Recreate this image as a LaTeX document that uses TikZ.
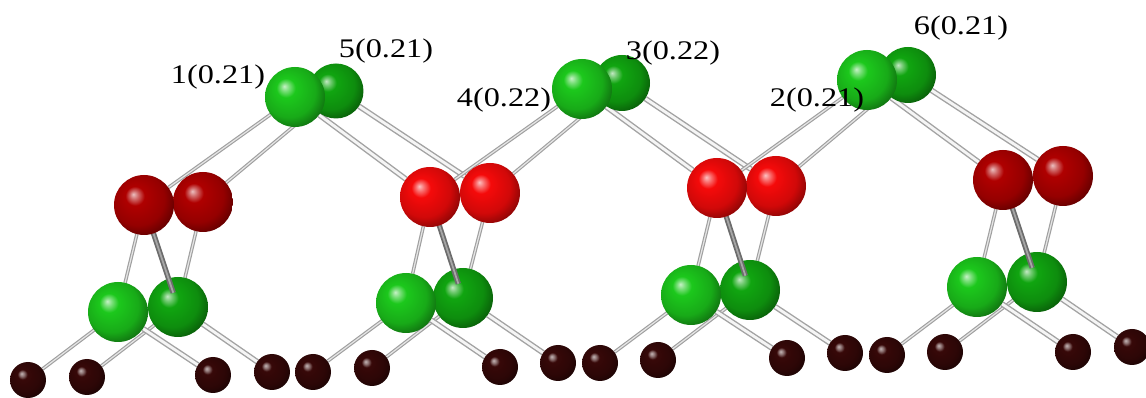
\documentclass[tikz,border=0pt]{standalone}
\usepackage{fontspec}
\setmainfont{Liberation Serif}

% atom colours
\definecolor{gfront}{RGB}{28,200,28}
\definecolor{gback}{RGB}{16,165,16}
\definecolor{rbright}{RGB}{245,10,10}
\definecolor{rdark}{RGB}{175,0,0}
\definecolor{katom}{RGB}{55,8,8}

% sphere shadings: soft highlight at upper left, dark rim
\pgfdeclareradialshading{gfshade}{\pgfpoint{-9bp}{9bp}}{color(0bp)=(gfront!25!white); color(3.5bp)=(gfront!60!white); color(8bp)=(gfront); color(22bp)=(gfront!85!black); color(34bp)=(gfront!45!black); color(50bp)=(black)}
\pgfdeclareradialshading{gbshade}{\pgfpoint{-9bp}{9bp}}{color(0bp)=(gback!25!white); color(3.5bp)=(gback!60!white); color(8bp)=(gback); color(22bp)=(gback!85!black); color(34bp)=(gback!45!black); color(50bp)=(black)}
\pgfdeclareradialshading{rbshade}{\pgfpoint{-9bp}{9bp}}{color(0bp)=(rbright!25!white); color(3.5bp)=(rbright!60!white); color(8bp)=(rbright); color(22bp)=(rbright!85!black); color(34bp)=(rbright!45!black); color(50bp)=(black)}
\pgfdeclareradialshading{rdshade}{\pgfpoint{-9bp}{9bp}}{color(0bp)=(rdark!25!white); color(3.5bp)=(rdark!60!white); color(8bp)=(rdark); color(22bp)=(rdark!85!black); color(34bp)=(rdark!45!black); color(50bp)=(black)}
\pgfdeclareradialshading{kshade}{\pgfpoint{-9bp}{9bp}}{color(0bp)=(katom!30!white); color(3bp)=(katom!55!white); color(7bp)=(katom); color(22bp)=(katom!80!black); color(34bp)=(katom!40!black); color(50bp)=(black)}

% drawing order: page, bonds, rear atoms, bonds lying over rear atoms, front atoms
\pgfdeclarelayer{page}
\pgfdeclarelayer{bonds}
\pgfdeclarelayer{back}
\pgfdeclarelayer{cross}
\pgfsetlayers{page,bonds,back,cross,main}

\begin{document}
\begin{tikzpicture}[x=0.02cm,y=0.02cm,
  atom/.style={circle, inner sep=0pt, outer sep=0pt, shade, minimum size=1.2cm},
  gf/.style={atom, shading=gfshade},
  gb/.style={atom, shading=gbshade},
  rb/.style={atom, shading=rbshade},
  rd/.style={atom, shading=rdshade},
  ck/.style={atom, shading=kshade, minimum size=0.72cm},
  bondL/.style={draw=gray!75, line width=2pt, postaction={draw=gray!20, line width=0.7pt}},
  bondR/.style={draw=gray!72, line width=3.2pt, postaction={draw=white!92!gray, line width=1.6pt}},
  bondX/.style={draw=gray!85!black, line width=3pt, shorten >=-0.3cm, postaction={draw=gray!70, line width=1pt}},
  lbl/.style={anchor=base, inner sep=0pt, font=\fontsize{15.3}{18}\selectfont}]
\begin{pgfonlayer}{page}
  \fill[white] (0,0) rectangle (1146,398);
\end{pgfonlayer}
\useasboundingbox (0,0) rectangle (1146,398);

% ---- rear atoms ----
\begin{pgfonlayer}{back}
  % upper pairs
  \node[gb, minimum size=1.1cm]  (t1b) at (336,307) {};
  \node[gb, minimum size=1.12cm] (t2b) at (622,315) {};
  \node[gb, minimum size=1.12cm] (t3b) at (908,323) {};
  % oxygen pairs
  \node[rd] (r1b) at (203,196) {};
  \node[rb] (r2b) at (490,205) {};
  \node[rb] (r3b) at (776,212) {};
  \node[rd] (r4b) at (1063,222) {};
  % lower pairs
  \node[gb] (g1b) at (178,91) {};
  \node[gb] (g2b) at (463,100) {};
  \node[gb] (g3b) at (750,108) {};
  \node[gb] (g4b) at (1037,116) {};
  % substrate row
  \node[ck] (k1)  at (28,18) {};
  \node[ck] (k2)  at (87,21) {};
  \node[ck] (k3)  at (213,23) {};
  \node[ck] (k4)  at (272,26) {};
  \node[ck] (k5)  at (313,26) {};
  \node[ck] (k6)  at (372,30) {};
  \node[ck] (k7)  at (500,31) {};
  \node[ck] (k8)  at (558,35) {};
  \node[ck] (k9)  at (600,35) {};
  \node[ck] (k10) at (658,38) {};
  \node[ck] (k11) at (787,40) {};
  \node[ck] (k12) at (845,45) {};
  \node[ck] (k13) at (887,43) {};
  \node[ck] (k14) at (945,46) {};
  \node[ck] (k15) at (1073,46) {};
  \node[ck] (k16) at (1132,51) {};
\end{pgfonlayer}

% ---- front atoms ----
\node[gf] (t1f) at (295,301) {};
\node[gf] (t2f) at (582,309) {};
\node[gf] (t3f) at (867,318) {};
\node[rd] (r1f) at (144,193) {};
\node[rb] (r2f) at (430,201) {};
\node[rb] (r3f) at (717,210) {};
\node[rd] (r4f) at (1003,218) {};
\node[gf] (g1f) at (118,86) {};
\node[gf] (g2f) at (406,95) {};
\node[gf] (g3f) at (691,103) {};
\node[gf] (g4f) at (977,111) {};

% ---- bonds ----
\begin{pgfonlayer}{bonds}
  % upper atoms to oxygen pairs on either side
  \foreach \k/\n in {1/2,2/3,3/4} {
    \draw[bondL] (t\k f) -- (r\k f);
    \draw[bondL] (t\k b) -- (r\k b);
    \draw[bondR] (t\k f) -- (r\n f);
    \draw[bondR] (t\k b) -- (r\n b);
  }
  % oxygen to lower pairs
  \foreach \k in {1,2,3,4} {
    \draw[bondL] (r\k f) -- (g\k f);
    \draw[bondL] (r\k b) -- (g\k b);
  }
  % lower pairs to substrate
  \foreach \k/\a/\b/\c/\d in {1/1/2/3/4, 2/5/6/7/8, 3/9/10/11/12, 4/13/14/15/16} {
    \draw[bondL] (g\k f) -- (k\a);
    \draw[bondL] (g\k b) -- (k\b);
    \draw[bondR] (g\k f) -- (k\c);
    \draw[bondR] (g\k b) -- (k\d);
  }
\end{pgfonlayer}
\begin{pgfonlayer}{cross}
  \foreach \k in {1,2,3,4} {
    \draw[bondX] (r\k f) -- (g\k b);
  }
\end{pgfonlayer}

% ---- labels ----
\node[lbl] (l1) at (218,314) {\scalebox{1.2}[1]{1(0.21)}};
\node[lbl] (l5) at (386,340) {\scalebox{1.2}[1]{5(0.21)}};
\node[lbl] (l4) at (504,291) {\scalebox{1.2}[1]{4(0.22)}};
\node[lbl] (l3) at (673,338) {\scalebox{1.2}[1]{3(0.22)}};
\node[lbl] (l2) at (817,291) {\scalebox{1.2}[1]{2(0.21)}};
\node[lbl] (l6) at (961,363) {\scalebox{1.2}[1]{6(0.21)}};
\end{tikzpicture}
\end{document}
